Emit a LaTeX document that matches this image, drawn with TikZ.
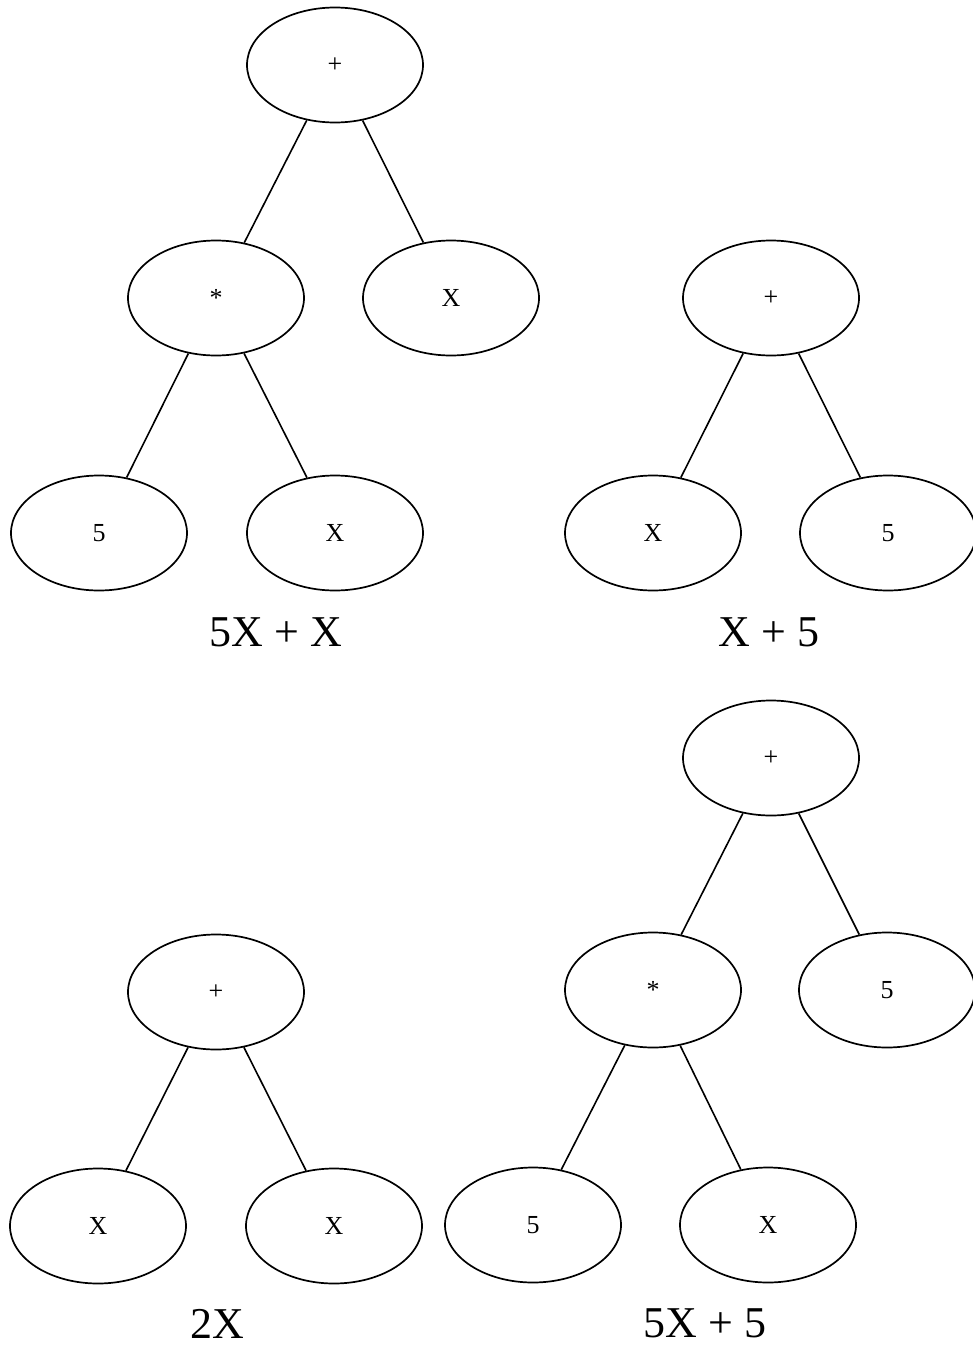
\documentclass[tikz,border=0pt]{standalone}
\usepackage{fontspec}
\setmainfont{Liberation Serif}
\usetikzlibrary{shapes.geometric}
\tikzset{
  tn/.style={ellipse, draw, line width=1.7pt, minimum width=176pt, minimum height=115pt, inner sep=0pt, font=\fontsize{26}{30}\selectfont},
  edge/.style={line width=1.6pt},
  treelabel/.style={font=\fontsize{44}{50}\selectfont, inner sep=0pt}
}
\begin{document}
\begin{tikzpicture}[x=1pt,y=-1pt]
\useasboundingbox (0,0) rectangle (973,1347);
% tree 1
\node[tn] (a1) at (335,65) {+};
\node[tn] (a2) at (216,298) {*};
\node[tn] (a3) at (451,298) {X};
\node[tn] (a4) at (99,533) {5};
\node[tn] (a5) at (335,533) {X};
\draw[edge] (a1) -- (a2);
\draw[edge] (a1) -- (a3);
\draw[edge] (a2) -- (a4);
\draw[edge] (a2) -- (a5);
\node[treelabel] (la) at (276,632) {5X + X};
% tree 2
\node[tn] (b1) at (771,298) {+};
\node[tn] (b2) at (653,533) {X};
\node[tn] (b3) at (888,533) {5};
\draw[edge] (b1) -- (b2);
\draw[edge] (b1) -- (b3);
\node[treelabel] (lb) at (769,632) {X + 5};
% tree 3
\node[tn] (c1) at (216,992) {+};
\node[tn] (c2) at (98,1226) {X};
\node[tn] (c3) at (334,1226) {X};
\draw[edge] (c1) -- (c2);
\draw[edge] (c1) -- (c3);
\node[treelabel] (lc) at (217,1324) {2X};
% tree 4
\node[tn] (d1) at (771,758) {+};
\node[tn] (d2) at (653,990) {*};
\node[tn] (d3) at (887,990) {5};
\node[tn] (d4) at (533,1225) {5};
\node[tn] (d5) at (768,1225) {X};
\draw[edge] (d1) -- (d2);
\draw[edge] (d1) -- (d3);
\draw[edge] (d2) -- (d4);
\draw[edge] (d2) -- (d5);
\node[treelabel] (ld) at (705,1323) {5X + 5};
\end{tikzpicture}
\end{document}
